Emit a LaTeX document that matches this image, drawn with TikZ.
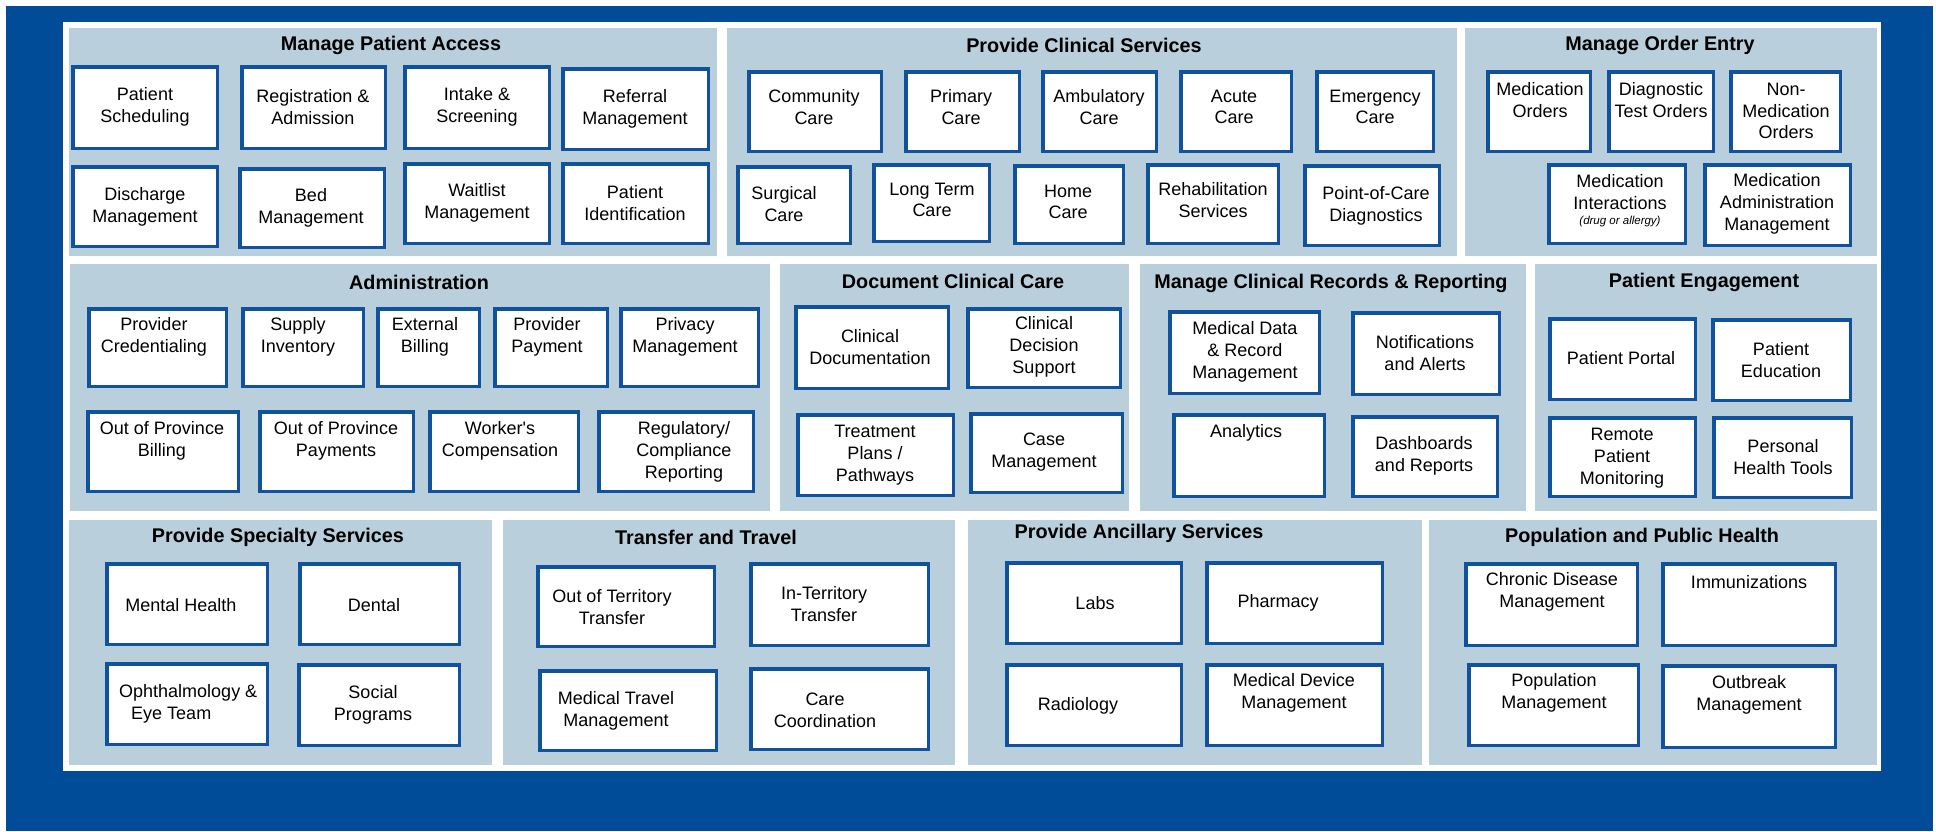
\documentclass[tikz,border=0pt]{standalone}
\usepackage{fontspec}
\setmainfont{Liberation Sans}
\definecolor{bgblue}{RGB}{0,76,153}
\definecolor{grpfill}{RGB}{185,207,220}
\definecolor{bordblue}{RGB}{16,82,158}
\newcommand\Rect[6]{\node[#6,minimum width={(#4-#2)*1pt},minimum height={(#5-#3)*1pt}] (#1) at ({(#2+#4)/2},{(#3+#5)/2}) {};}
\newcommand\Grp[5]{\Rect{#1}{#2}{#3}{#4}{#5}{grp}}
\newcommand\Bx[5]{\node[bx,minimum width={(#4-#2-3.5)*1pt},minimum height={(#5-#3-3.5)*1pt}] (#1) at ({(#2+#4)/2},{(#3+#5)/2}) {};}
\newcommand\Tx[4]{\node[lbl] (#1) at (#2,#3) {#4};}
\newcommand\Ttl[4]{\node[ttl] (#1) at (#2,#3) {#4};}
\begin{document}
\begin{tikzpicture}[x=1pt,y=-1pt,
  grp/.style={fill=grpfill,draw=none,inner sep=0pt,outer sep=0pt},
  bx/.style={fill=white,draw=bordblue,line width=3.5pt,inner sep=0pt,outer sep=0pt},
  lbl/.style={align=center,inner sep=0pt,font=\fontsize{18}{21.7}\selectfont},
  ttl/.style={inner sep=0pt,font=\fontsize{19.8}{24}\selectfont\bfseries},
  panel/.style={inner sep=0pt,outer sep=0pt,draw=none}]
\useasboundingbox (0,0) rectangle (1936,831);
\fill[white] (0,0) rectangle (1936,831);
\Rect{bg}{6}{6}{1933}{831}{panel,fill=bgblue}
\Rect{sheet}{63}{22}{1881}{771}{panel,fill=white}

% ---------- Row 1 ----------
\Grp{mpa}{69}{28}{717}{256}
\Ttl{mpa-t}{391}{45}{Manage Patient Access}
\Bx{ps}{71}{65}{219}{150}   \Tx{ps-t}{145}{107}{Patient\\Scheduling}
\Bx{ra}{240}{65}{387}{150}  \Tx{ra-t}{313}{107}{Registration \&\\Admission}
\Bx{is}{403}{65}{551}{150}  \Tx{is-t}{477}{107}{Intake \&\\Screening}
\Bx{rm}{561}{67}{710}{151}  \Tx{rm-t}{635}{109}{Referral\\Management}
\Bx{dm}{71}{165}{219}{248}  \Tx{dm-t}{145}{207}{Discharge\\Management}
\Bx{bm}{238}{167}{386}{249} \Tx{bm-t}{311}{208}{Bed\\Management}
\Bx{wm}{403}{162}{551}{245} \Tx{wm-t}{477}{203}{Waitlist\\Management}
\Bx{pi}{561}{162}{710}{245} \Tx{pi-t}{635}{203}{Patient\\Identification}

\Grp{pcs}{727}{28}{1457}{256}
\Ttl{pcs-t}{1084}{45}{Provide Clinical Services}
\Bx{cc}{747}{70}{883}{153}   \Tx{cc-t}{814}{107}{Community\\Care}
\Bx{pc}{904}{70}{1021}{153}  \Tx{pc-t}{961}{107}{Primary\\Care}
\Bx{ac}{1041}{70}{1158}{153} \Tx{ac-t}{1099}{107}{Ambulatory\\Care}
\Bx{acu}{1179}{70}{1293}{153} \Tx{acu-t}{1234}{107}{Acute\\Care}
\Bx{ec}{1315}{70}{1435}{153} \Tx{ec-t}{1375}{107}{Emergency\\Care}
\Bx{sc}{736}{165}{852}{245}  \Tx{sc-t}{784}{204}{Surgical\\Care}
\Bx{lt}{872}{163}{991}{243}  \Tx{lt-t}{932}{200}{Long Term\\Care}
\Bx{hc}{1013}{164}{1125}{245} \Tx{hc-t}{1068}{202}{Home\\Care}
\Bx{rs}{1146}{163}{1280}{245} \Tx{rs-t}{1213}{200}{Rehabilitation\\Services}
\Bx{pd}{1303}{164}{1441}{247} \Tx{pd-t}{1376}{206}{Point-of-Care\\Diagnostics}

\Grp{moe}{1465}{28}{1877}{256}
\Ttl{moe-t}{1660}{45}{Manage Order Entry}
\Bx{mo}{1486}{70}{1592}{153}  \Tx{mo-t}{1540}{100}{Medication\\Orders}
\Bx{dt}{1607}{70}{1715}{153}  \Tx{dt-t}{1661}{100}{Diagnostic\\Test Orders}
\Bx{nm}{1729}{70}{1842}{153}  \Tx{nm-t}{1786}{111}{Non-\\Medication\\Orders}
\Bx{mi}{1547}{163}{1687}{245} \Tx{mi-t}{1620}{192}{Medication\\Interactions}
\node[inner sep=0pt,font=\fontsize{11.5}{13}\selectfont\itshape] (mi-s) at (1620,222) {(drug or allergy)};
\Bx{mam}{1703}{163}{1852}{247} \Tx{mam-t}{1777}{204}{Medication\\Administration\\Management}

% ---------- Row 2 ----------
\Grp{adm}{70}{264}{770}{511}
\Ttl{adm-t}{419}{282}{Administration}
\Bx{pcr}{87}{307}{228}{388}  \Tx{pcr-t}{154}{337}{Provider\\Credentialing}
\Bx{si}{241}{307}{365}{388}  \Tx{si-t}{298}{337}{Supply\\Inventory}
\Bx{eb}{376}{307}{481}{388}  \Tx{eb-t}{425}{337}{External\\Billing}
\Bx{pp}{493}{307}{609}{388}  \Tx{pp-t}{547}{337}{Provider\\Payment}
\Bx{pm}{619}{307}{760}{388}  \Tx{pm-t}{685}{337}{Privacy\\Management}
\Bx{opb}{86}{410}{240}{493}  \Tx{opb-t}{162}{441}{Out of Province\\Billing}
\Bx{opp}{258}{410}{415}{493} \Tx{opp-t}{336}{441}{Out of Province\\Payments}
\Bx{wc}{428}{410}{580}{493}  \Tx{wc-t}{500}{441}{Worker\textquotesingle s\\Compensation}
\Bx{rcr}{597}{410}{755}{493} \Tx{rcr-t}{684}{452}{Regulatory/\\Compliance\\Reporting}

\Grp{dcc}{780}{264}{1129}{511}
\Ttl{dcc-t}{953}{281}{Document Clinical Care}
\Bx{cd}{794}{305}{950}{390}   \Tx{cd-t}{870}{347}{Clinical\\Documentation}
\Bx{cds}{966}{307}{1122}{389} \Tx{cds-t}{1044}{347}{Clinical\\Decision\\Support}
\Bx{tp}{796}{413}{955}{497}   \Tx{tp-t}{875}{455}{Treatment\\Plans /\\Pathways}
\Bx{cm}{969}{412}{1124}{494}  \Tx{cm-t}{1044}{452}{Case\\Management}

\Grp{mcr}{1140}{264}{1526}{511}
\Ttl{mcr-t}{1331}{283}{Manage Clinical Records \& Reporting}
\Bx{mdr}{1168}{310}{1321}{395} \Tx{mdr-t}{1245}{352}{Medical Data\\\& Record\\Management}
\Bx{na}{1351}{311}{1501}{396}  \Tx{na-t}{1425}{353}{Notifications\\and Alerts}
\Bx{an}{1172}{413}{1326}{498}  \Tx{an-t}{1246}{433}{Analytics}
\Bx{dr}{1351}{415}{1499}{498}  \Tx{dr-t}{1424}{456}{Dashboards\\and Reports}

\Grp{pe}{1535}{264}{1877}{511}
\Ttl{pe-t}{1704}{282}{Patient Engagement}
\Bx{pport}{1548}{317}{1697}{401} \Tx{pport-t}{1621}{358}{Patient Portal}
\Bx{ped}{1711}{318}{1852}{402}   \Tx{ped-t}{1781}{360}{Patient\\Education}
\Bx{rpm}{1548}{416}{1697}{498}   \Tx{rpm-t}{1622}{458}{Remote\\Patient\\Monitoring}
\Bx{pht}{1712}{416}{1853}{499}   \Tx{pht-t}{1783}{457}{Personal\\Health Tools}

% ---------- Row 3 ----------
\Grp{pss}{69}{520}{492}{765}
\Ttl{pss-t}{278}{537}{Provide Specialty Services}
\Bx{mh}{105}{562}{269}{646}  \Tx{mh-t}{181}{605}{Mental Health}
\Bx{de}{298}{562}{461}{646}  \Tx{de-t}{374}{605}{Dental}
\Bx{oe}{105}{662}{269}{746}
\node[lbl,align=left,anchor=west] (oe-t) at (119,704) {Ophthalmology \&\\\hspace*{12pt}Eye Team};
\Bx{sp}{297}{663}{461}{747}  \Tx{sp-t}{373}{705}{Social\\Programs}

\Grp{tt}{503}{520}{955}{765}
\Ttl{tt-t}{706}{537}{Transfer and Travel}
\Bx{ott}{536}{565}{716}{648} \Tx{ott-t}{612}{607}{Out of Territory\\Transfer}
\Bx{itt}{749}{562}{930}{647} \Tx{itt-t}{824}{604}{In-Territory\\Transfer}
\Bx{mtm}{538}{669}{718}{752} \Tx{mtm-t}{616}{711}{Medical Travel\\Management}
\Bx{cco}{749}{667}{930}{751} \Tx{cco-t}{825}{710}{Care\\Coordination}

\Grp{pas}{968}{520}{1422}{765}
\Ttl{pas-t}{1139}{533}{Provide Ancillary Services}
\Bx{lab}{1005}{561}{1183}{645} \Tx{lab-t}{1095}{603}{Labs}
\Bx{ph}{1205}{561}{1384}{645}  \Tx{ph-t}{1278}{603}{Pharmacy}
\Bx{rad}{1005}{663}{1183}{747} \Tx{rad-t}{1078}{706}{Radiology}
\Bx{mdm}{1205}{663}{1384}{747} \Tx{mdm-t}{1294}{693}{Medical Device\\Management}

\Grp{pph}{1429}{520}{1877}{765}
\Ttl{pph-t}{1642}{537}{Population and Public Health}
\Bx{cdm}{1464}{562}{1639}{647} \Tx{cdm-t}{1552}{592}{Chronic Disease\\Management}
\Bx{imm}{1661}{562}{1837}{647} \Tx{imm-t}{1749}{582}{Immunizations}
\Bx{popm}{1467}{663}{1640}{747} \Tx{popm-t}{1554}{693}{Population\\Management}
\Bx{obm}{1661}{664}{1837}{749}  \Tx{obm-t}{1749}{695}{Outbreak\\Management}
\end{tikzpicture}
\end{document}
